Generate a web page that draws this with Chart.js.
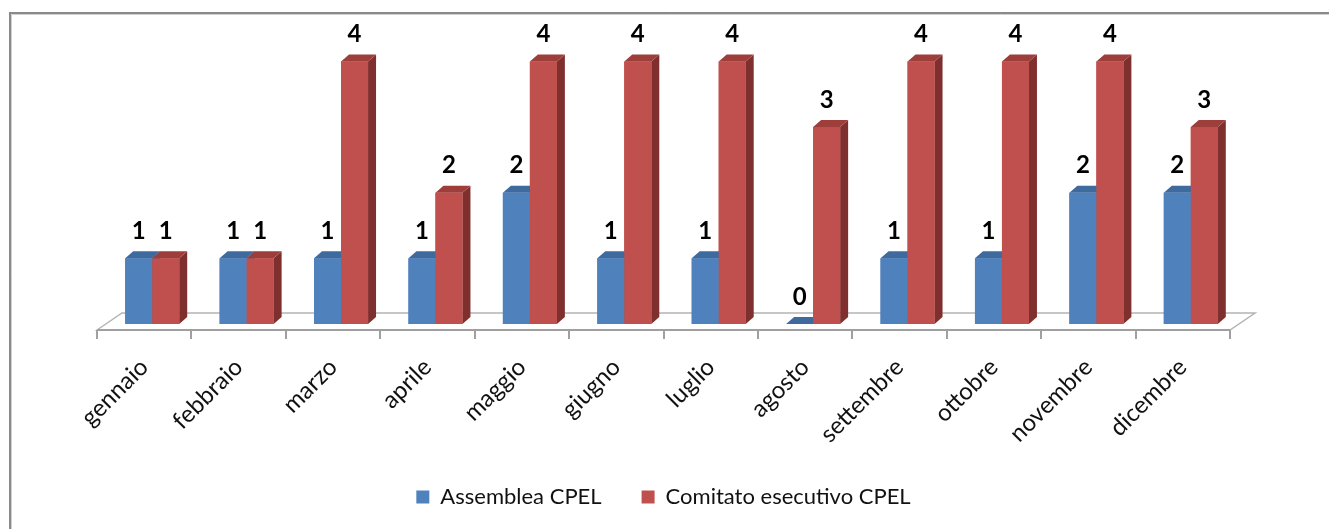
<!DOCTYPE html>
<html>
<head>
<meta charset="utf-8">
<script src="https://cdn.jsdelivr.net/npm/chart.js@4/dist/chart.umd.min.js"></script>
<style>
  html, body { margin: 0; padding: 0; background: #fff; }
  #wrap { position: relative; width: 1329px; height: 529px; }
</style>
</head>
<body>
<div id="wrap"><canvas id="c" width="1329" height="529"></canvas></div>
<script>
// Meetings per month
const months = ['gennaio', 'febbraio', 'marzo', 'aprile', 'maggio', 'giugno',
                'luglio', 'agosto', 'settembre', 'ottobre', 'novembre', 'dicembre'];
const assemblea = [1, 1, 1, 1, 2, 1, 1, 0, 1, 1, 2, 2];
const comitato  = [1, 1, 4, 2, 4, 4, 4, 3, 4, 4, 4, 3];
const seriesNames = ['Assemblea CPEL', 'Comitato esecutivo CPEL'];

const FONT = 'Lato, "Liberation Sans", sans-serif';

// face colours for the extruded bars: front, top, side
const faces = [
  { front: '#4F81BD', top: '#3F6A9D', side: '#385D8A' },
  { front: '#C0504D', top: '#9E3E3B', side: '#7F302E' }
];
const DX = 8, DY = -7;           // bar depth offset
const FDX = 25, FDY = -17;       // floor depth offset

// outer frame (top and left edges)
const framePlugin = {
  id: 'frame',
  afterLayout(chart) {
    // centre the legend under the floor rather than the plot box
    if (chart.legend) { chart.legend.left -= 8; chart.legend.right -= 8; }
  },
  beforeDraw(chart) {
    const ctx = chart.ctx;
    ctx.save();
    ctx.strokeStyle = '#8a8a8a';
    ctx.lineWidth = 2;
    ctx.beginPath();
    ctx.moveTo(10, chart.height + 2);
    ctx.lineTo(10, 13);
    ctx.lineTo(chart.width + 2, 13);
    ctx.stroke();
    ctx.strokeStyle = '#d0d0d0';
    ctx.lineWidth = 1;
    ctx.beginPath();
    ctx.moveTo(11.5, chart.height + 2);
    ctx.lineTo(11.5, 14.5);
    ctx.lineTo(chart.width + 2, 14.5);
    ctx.stroke();
    ctx.restore();
  }
};

// floor plane with category tick marks
const floorPlugin = {
  id: 'floor',
  beforeDatasetsDraw(chart) {
    const ctx = chart.ctx;
    const x = chart.scales.x, y = chart.scales.y;
    const base = y.getPixelForValue(0);
    const step = x.getPixelForValue(1) - x.getPixelForValue(0);
    const fy = base + 6;
    const x0 = x.getPixelForValue(0) - step / 2 - 8;
    const x1 = x.getPixelForValue(months.length - 1) + step / 2 - 8;
    ctx.save();
    ctx.lineJoin = 'miter';
    ctx.beginPath();
    ctx.moveTo(x0, fy);
    ctx.lineTo(x0 + FDX, fy + FDY);
    ctx.lineTo(x1 + FDX, fy + FDY);
    ctx.lineTo(x1, fy);
    ctx.closePath();
    ctx.fillStyle = '#ffffff';
    ctx.fill();
    ctx.strokeStyle = '#b4b4b4';
    ctx.lineWidth = 1.5;
    ctx.stroke();
    // front edge and ticks
    ctx.strokeStyle = '#a0a0a0';
    ctx.lineWidth = 2;
    ctx.beginPath();
    ctx.moveTo(x0, fy);
    ctx.lineTo(x1, fy);
    for (let i = 0; i <= months.length; i++) {
      const tx = Math.round(x0 + i * step);
      ctx.moveTo(tx, fy);
      ctx.lineTo(tx, fy + 9);
    }
    ctx.stroke();
    ctx.restore();
  }
};

// extruded bars: each category drawn back to front, left to right
const barsPlugin = {
  id: 'bars3d',
  afterDatasetsDraw(chart) {
    const ctx = chart.ctx;
    const metas = [chart.getDatasetMeta(0), chart.getDatasetMeta(1)];
    ctx.save();
    for (let i = 0; i < months.length; i++) {
      metas.forEach((meta, d) => {
        const el = meta.data[i];
        const l = el.x - el.width / 2, r = el.x + el.width / 2;
        const top = Math.min(el.y, el.base), bot = Math.max(el.y, el.base);
        const f = faces[d];
        // side
        ctx.fillStyle = f.side;
        ctx.beginPath();
        ctx.moveTo(r, bot); ctx.lineTo(r + DX, bot + DY);
        ctx.lineTo(r + DX, top + DY); ctx.lineTo(r, top);
        ctx.closePath(); ctx.fill();
        // top
        ctx.fillStyle = f.top;
        ctx.beginPath();
        ctx.moveTo(l, top); ctx.lineTo(l + DX, top + DY);
        ctx.lineTo(r + DX, top + DY); ctx.lineTo(r, top);
        ctx.closePath(); ctx.fill();
        // front
        ctx.fillStyle = f.front;
        ctx.fillRect(l, top, r - l, bot - top);
      });
    }
    // value labels
    ctx.fillStyle = '#000';
    ctx.font = 'bold 24px ' + FONT;
    ctx.textAlign = 'center';
    ctx.textBaseline = 'middle';
    metas.forEach((meta, d) => {
      const vals = chart.data.datasets[d].data;
      meta.data.forEach((el, i) => {
        ctx.fillText(String(vals[i]), el.x, Math.min(el.y, el.base) - 27);
      });
    });
    ctx.restore();
  }
};

new Chart(document.getElementById('c'), {
  type: 'bar',
  data: {
    labels: months,
    datasets: [
      { label: seriesNames[0], data: assemblea, backgroundColor: faces[0].front },
      { label: seriesNames[1], data: comitato,  backgroundColor: faces[1].front }
    ]
  },
  options: {
    responsive: false,
    animation: false,
    datasets: { bar: { categoryPercentage: 0.572, barPercentage: 1.0 } },
    layout: { padding: { left: 105, right: 91, top: 22, bottom: 11 } },
    scales: {
      x: {
        grid: { display: false },
        border: { display: false },
        ticks: {
          color: '#111',
          font: { family: FONT, size: 24 },
          minRotation: 45, maxRotation: 45,
          labelOffset: -8,
          padding: 21,
          autoSkip: false
        },
        afterFit(scale) { scale.height = 122; }
      },
      y: {
        display: false,
        min: 0, max: 4.6
      }
    },
    plugins: {
      legend: {
        position: 'bottom',
        labels: {
          color: '#111',
          font: { family: FONT, size: 22 },
          boxWidth: 13, boxHeight: 13,
          padding: 40
        }
      },
      tooltip: { enabled: false }
    }
  },
  plugins: [framePlugin, floorPlugin, barsPlugin]
});
</script>
</body>
</html>
